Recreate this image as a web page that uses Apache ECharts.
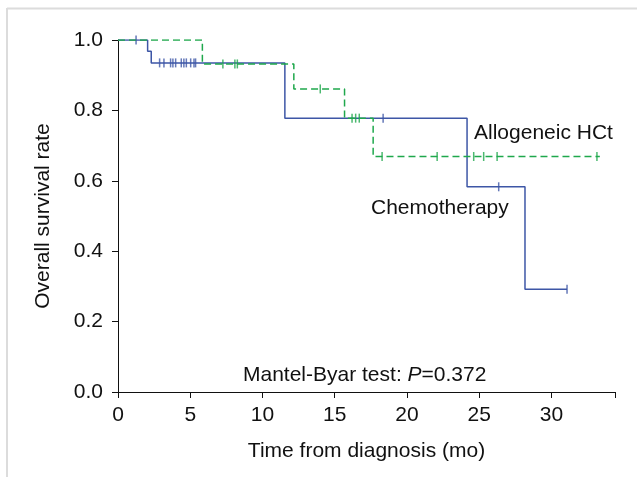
<!DOCTYPE html>
<html lang="en">
<head>
    <meta charset="UTF-8">
    <title>Overall survival</title>
    <style>
        html, body { margin: 0; padding: 0; background: #fff; }
        #box { width: 637px; height: 477px; }
    </style>
</head>
<body>
<div id="box"></div>
<script src="https://cdn.jsdelivr.net/npm/echarts@6/dist/echarts.min.js"></script>
<script>
    // chemotherapy curve (blue, solid)
    var chemoTimes = [0, 2.05, 2.3, 11.55, 24.16, 28.17, 31.08];
    var chemoSurv = [1, 0.968, 0.935, 0.778, 0.583, 0.292, 0.292];
    var chemoCensorT = [1.25, 2.88, 3.18, 3.64, 3.80, 3.99, 4.38, 4.56, 4.73, 5.03, 5.26, 5.37, 18.35, 26.35, 31.08];
    var chemoCensorS = [1, 0.935, 0.935, 0.935, 0.935, 0.935, 0.935, 0.935, 0.935, 0.935, 0.935, 0.935, 0.778, 0.583, 0.292];

    // allogeneic HCT curve (green, dashed)
    var alloTimes = [0, 5.84, 12.17, 15.68, 17.66, 33.35];
    var alloSurv = [1, 0.932, 0.861, 0.778, 0.669, 0.669];
    var alloCensorT = [7.26, 8.09, 8.26, 14.0, 16.2, 16.45, 16.7, 18.28, 22.09, 24.62, 25.31, 26.24, 33.15];
    var alloCensorS = [0.932, 0.932, 0.932, 0.861, 0.778, 0.778, 0.778, 0.669, 0.669, 0.669, 0.669, 0.669, 0.669];

    var xTicks = [0, 5, 10, 15, 20, 25, 30];

    var blue = '#3d56a6';
    var green = '#1fa84c';
    var font = '"Liberation Sans", Arial, sans-serif';

    // KM step path: drop happens at the event time
    function stepData(t, s) {
        var res = [[t[0], s[0]]];
        for (var i = 1; i < t.length; i++) {
            res.push([t[i], s[i - 1]]);
            res.push([t[i], s[i]]);
        }
        return res;
    }
    function pairs(t, s) {
        return t.map(function (v, i) { return [v, s[i]]; });
    }

    var mychart = echarts.init(document.getElementById('box'));
    var option = {
        animation: false,
        textStyle: { fontFamily: font },
        grid: { left: 118, right: 22, top: 40, bottom: 85 },
        xAxis: {
            type: 'value',
            min: 0,
            max: 34.4,
            interval: 5,
            name: 'Time from diagnosis (mo)',
            nameLocation: 'middle',
            nameGap: 49,
            nameTextStyle: { fontSize: 21, color: '#111', fontFamily: font },
            axisLine: { lineStyle: { color: '#111', width: 1 } },
            axisTick: { length: 6, lineStyle: { color: '#111' } },
            axisLabel: {
                fontSize: 21, color: '#111', margin: 13, fontFamily: font,
                formatter: function (v) { return xTicks.indexOf(v) >= 0 ? String(v) : ''; }
            },
            splitLine: { show: false }
        },
        yAxis: {
            type: 'value',
            min: 0,
            max: 1,
            interval: 0.2,
            name: 'Overall survival rate',
            nameLocation: 'middle',
            nameGap: 64,
            nameTextStyle: { fontSize: 21, color: '#111', fontFamily: font },
            axisLine: { show: true, lineStyle: { color: '#111', width: 1 } },
            axisTick: { show: true, length: 6, lineStyle: { color: '#111' } },
            axisLabel: {
                fontSize: 21, color: '#111', margin: 15, fontFamily: font,
                formatter: function (v) { return v.toFixed(1); }
            },
            splitLine: { show: false }
        },
        graphic: [
            { type: 'line', shape: { x1: 7, y1: 8.5, x2: 637, y2: 8.5 }, style: { stroke: '#dcdcdc', lineWidth: 2 } },
            { type: 'line', shape: { x1: 7, y1: 8, x2: 7, y2: 477 }, style: { stroke: '#dcdcdc', lineWidth: 2 } },
            { type: 'text', left: 474, top: 123, style: { text: 'Allogeneic HCt', fontSize: 21, fill: '#111', fontFamily: font } },
            { type: 'text', left: 371, top: 198, style: { text: 'Chemotherapy', fontSize: 21, fill: '#111', fontFamily: font } },
            {
                type: 'text', left: 243, top: 365,
                style: {
                    text: '{n|Mantel-Byar test: }{i|P}{n|=0.372}',
                    fontFamily: font,
                    rich: {
                        n: { fontSize: 21, fill: '#111', fontFamily: font },
                        i: { fontSize: 21, fill: '#111', fontStyle: 'italic', fontFamily: font }
                    }
                }
            }
        ],
        series: [
            {
                name: 'Chemotherapy',
                type: 'line',
                showSymbol: false,
                symbol: 'none',
                lineStyle: { color: blue, width: 1.5 },
                data: stepData(chemoTimes, chemoSurv),
                z: 2
            },
            {
                name: 'Chemotherapy censored',
                type: 'scatter',
                symbol: 'rect',
                symbolSize: [1.5, 9],
                itemStyle: { color: blue },
                data: pairs(chemoCensorT, chemoCensorS),
                z: 3
            },
            {
                name: 'Allogeneic HCt',
                type: 'line',
                showSymbol: false,
                symbol: 'none',
                lineStyle: { color: green, width: 1.5, type: [7, 4] },
                data: stepData(alloTimes, alloSurv),
                z: 4
            },
            {
                name: 'Allogeneic HCt censored',
                type: 'scatter',
                symbol: 'rect',
                symbolSize: [1.5, 9],
                itemStyle: { color: green },
                data: pairs(alloCensorT, alloCensorS),
                z: 5
            }
        ]
    };
    mychart.setOption(option);
</script>
</body>
</html>
